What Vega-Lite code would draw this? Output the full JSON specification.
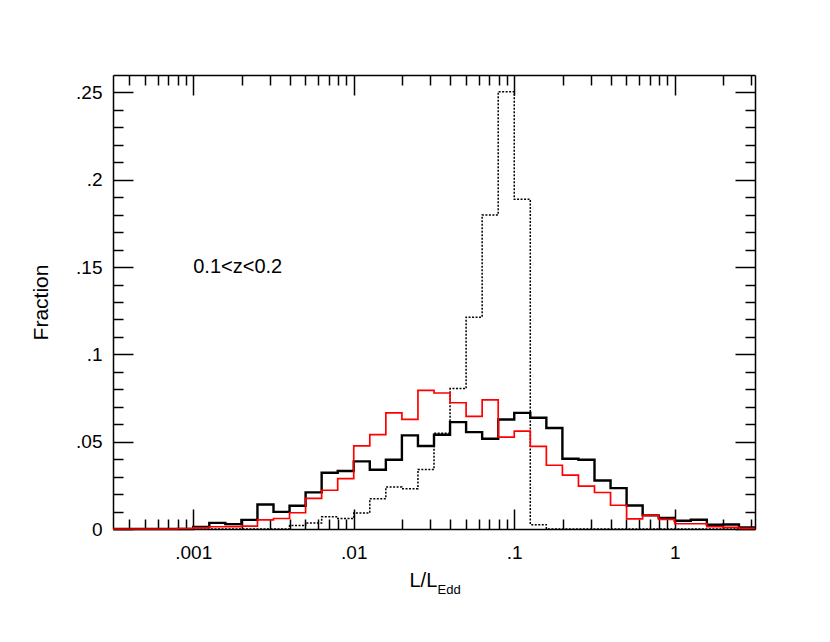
{
  "$schema": "https://vega.github.io/schema/vega-lite/v6.json",
  "width": 642,
  "height": 454,
  "autosize": {"type": "none"},
  "padding": {"left": 113, "top": 75, "right": 75, "bottom": 113},
  "background": "white",
  "config": {
    "view": {"stroke": null},
    "axis": {
      "domainColor": "black", "domainWidth": 1.5,
      "tickColor": "black", "tickWidth": 1.5,
      "grid": false,
      "labelFont": "Liberation Sans", "labelFontSize": 19, "labelColor": "black",
      "titleFont": "Liberation Sans", "titleFontSize": 20, "titleFontWeight": "normal", "titleColor": "black",
      "labelFlush": false, "labelOverlap": false
    }
  },
  "datasets": {
    "black": [
      {"x": 0.00031623, "f": 0}, {"x": 0.00039811, "f": 0}, {"x": 0.00050119, "f": 0}, {"x": 0.00063096, "f": 0}, {"x": 0.00079433, "f": 0},
      {"x": 0.001, "f": 0.0012}, {"x": 0.0012589, "f": 0.0035}, {"x": 0.0015849, "f": 0.0028}, {"x": 0.0019953, "f": 0.0052}, {"x": 0.0025119, "f": 0.014},
      {"x": 0.0031623, "f": 0.0098}, {"x": 0.0039811, "f": 0.0133}, {"x": 0.0050119, "f": 0.021}, {"x": 0.0063096, "f": 0.0322}, {"x": 0.0079433, "f": 0.0332},
      {"x": 0.01, "f": 0.0387}, {"x": 0.012589, "f": 0.0339}, {"x": 0.015849, "f": 0.0397}, {"x": 0.019953, "f": 0.0536}, {"x": 0.025119, "f": 0.0475},
      {"x": 0.031623, "f": 0.054}, {"x": 0.039811, "f": 0.0612}, {"x": 0.050119, "f": 0.0555}, {"x": 0.063096, "f": 0.0517}, {"x": 0.079433, "f": 0.0627},
      {"x": 0.1, "f": 0.0665}, {"x": 0.12589, "f": 0.0637}, {"x": 0.15849, "f": 0.0578}, {"x": 0.19953, "f": 0.0402}, {"x": 0.25119, "f": 0.0397},
      {"x": 0.31623, "f": 0.0278}, {"x": 0.39811, "f": 0.0234}, {"x": 0.50119, "f": 0.0135}, {"x": 0.63096, "f": 0.0078}, {"x": 0.79433, "f": 0.0063},
      {"x": 1.0, "f": 0.0047}, {"x": 1.2589, "f": 0.0053}, {"x": 1.5849, "f": 0.0024}, {"x": 1.9953, "f": 0.0026}, {"x": 2.5119, "f": 0.0009},
      {"x": 3.1623, "f": 0.0009}
    ],
    "red": [
      {"x": 0.00031623, "f": 0}, {"x": 0.00039811, "f": 0}, {"x": 0.00050119, "f": 0}, {"x": 0.00063096, "f": 0}, {"x": 0.00079433, "f": 0.0003},
      {"x": 0.001, "f": 0.0006}, {"x": 0.0012589, "f": 0.0013}, {"x": 0.0015849, "f": 0.0014}, {"x": 0.0019953, "f": 0.0016}, {"x": 0.0025119, "f": 0.0052},
      {"x": 0.0031623, "f": 0.006}, {"x": 0.0039811, "f": 0.0093}, {"x": 0.0050119, "f": 0.0175}, {"x": 0.0063096, "f": 0.0222}, {"x": 0.0079433, "f": 0.0289},
      {"x": 0.01, "f": 0.0476}, {"x": 0.012589, "f": 0.054}, {"x": 0.015849, "f": 0.0665}, {"x": 0.019953, "f": 0.0628}, {"x": 0.025119, "f": 0.0794},
      {"x": 0.031623, "f": 0.0779}, {"x": 0.039811, "f": 0.0723}, {"x": 0.050119, "f": 0.0645}, {"x": 0.063096, "f": 0.074}, {"x": 0.079433, "f": 0.0526},
      {"x": 0.1, "f": 0.0561}, {"x": 0.12589, "f": 0.0473}, {"x": 0.15849, "f": 0.0365}, {"x": 0.19953, "f": 0.0308}, {"x": 0.25119, "f": 0.0245},
      {"x": 0.31623, "f": 0.0209}, {"x": 0.39811, "f": 0.0136}, {"x": 0.50119, "f": 0.0058}, {"x": 0.63096, "f": 0.0078}, {"x": 0.79433, "f": 0.0055},
      {"x": 1.0, "f": 0.003}, {"x": 1.2589, "f": 0.003}, {"x": 1.5849, "f": 0.0014}, {"x": 1.9953, "f": 0.0009}, {"x": 2.5119, "f": 0.0004},
      {"x": 3.1623, "f": 0.0004}
    ],
    "dotted": [
      {"x": 0.00031623, "f": 0}, {"x": 0.0039811, "f": 0.002}, {"x": 0.0050119, "f": 0.0035}, {"x": 0.0063096, "f": 0.007}, {"x": 0.0079433, "f": 0.006},
      {"x": 0.01, "f": 0.0092}, {"x": 0.012589, "f": 0.0173}, {"x": 0.015849, "f": 0.024}, {"x": 0.019953, "f": 0.0231}, {"x": 0.025119, "f": 0.0341},
      {"x": 0.031623, "f": 0.0548}, {"x": 0.039811, "f": 0.0804}, {"x": 0.050119, "f": 0.1213}, {"x": 0.063096, "f": 0.1798}, {"x": 0.079433, "f": 0.2504},
      {"x": 0.1, "f": 0.1888}, {"x": 0.12589, "f": 0.0025}, {"x": 0.15849, "f": 0}, {"x": 3.1623, "f": 0}
    ],
    "note": [
      {"x": 0.001, "f": 0.15, "label": "0.1<z<0.2"}
    ]
  },
  "layer": [
    {
      "data": {"name": "black"},
      "mark": {"type": "line", "interpolate": "step-after", "color": "black", "strokeWidth": 2.4},
      "encoding": {
        "x": {
          "field": "x", "type": "quantitative",
          "scale": {"type": "log", "domain": [0.00031623, 3.1623], "nice": false},
          "axis": {
            "orient": "bottom", "values": [0.001, 0.01, 0.1, 1], "tickSize": -20, "labelPadding": 34,
            "labelExpr": "datum.value > 0 && datum.value < 1 ? replace(toString(datum.value), '0.', '.') : toString(datum.value)",
            "title": "L/L", "titleAlign": "left", "titleBaseline": "alphabetic", "titleX": 296, "titleY": 57
          }
        },
        "y": {
          "field": "f", "type": "quantitative",
          "scale": {"domain": [0, 0.26], "nice": false, "zero": false},
          "axis": {
            "orient": "left", "values": [0, 0.05, 0.1, 0.15, 0.2, 0.25], "tickSize": -20, "labelPadding": 31,
            "labelExpr": "datum.value > 0 && datum.value < 1 ? replace(toString(datum.value), '0.', '.') : toString(datum.value)",
            "title": "Fraction", "titleFontSize": 21, "titleAngle": -90, "titleAlign": "center", "titleBaseline": "alphabetic", "titleX": -66, "titleY": 227
          }
        }
      }
    },
    {
      "data": {"name": "dotted"},
      "mark": {"type": "line", "interpolate": "step-after", "color": "black", "strokeWidth": 1.5, "strokeDash": [2, 1.5]},
      "encoding": {
        "x": {
          "field": "x", "type": "quantitative",
          "scale": {"type": "log", "domain": [0.00031623, 3.1623], "nice": false},
          "axis": {
            "orient": "bottom",
            "values": [0.0004, 0.0005, 0.0006, 0.0007, 0.0008, 0.0009, 0.002, 0.003, 0.004, 0.005, 0.006, 0.007, 0.008, 0.009, 0.02, 0.03, 0.04, 0.05, 0.06, 0.07, 0.08, 0.09, 0.2, 0.3, 0.4, 0.5, 0.6, 0.7, 0.8, 0.9, 2, 3],
            "tickSize": -10, "labels": false, "domain": false,
            "title": "Edd", "titleFontSize": 13, "titleAlign": "left", "titleBaseline": "alphabetic", "titleX": 324, "titleY": 64
          }
        },
        "y": {
          "field": "f", "type": "quantitative",
          "scale": {"domain": [0, 0.26], "nice": false, "zero": false},
          "axis": {
            "orient": "left",
            "values": [0.01, 0.02, 0.03, 0.04, 0.06, 0.07, 0.08, 0.09, 0.11, 0.12, 0.13, 0.14, 0.16, 0.17, 0.18, 0.19, 0.21, 0.22, 0.23, 0.24],
            "tickSize": -10, "labels": false, "domain": false, "title": null
          }
        }
      }
    },
    {
      "data": {"name": "red"},
      "mark": {"type": "line", "interpolate": "step-after", "color": "#ff0000", "strokeWidth": 1.7},
      "encoding": {
        "x": {
          "field": "x", "type": "quantitative",
          "scale": {"type": "log", "domain": [0.00031623, 3.1623], "nice": false},
          "axis": {"orient": "top", "values": [0.001, 0.01, 0.1, 1], "tickSize": -20, "labels": false, "title": null}
        },
        "y": {
          "field": "f", "type": "quantitative",
          "scale": {"domain": [0, 0.26], "nice": false, "zero": false},
          "axis": {"orient": "right", "values": [0, 0.05, 0.1, 0.15, 0.2, 0.25], "tickSize": -20, "labels": false, "title": null}
        }
      }
    },
    {
      "data": {"name": "note"},
      "mark": {"type": "text", "align": "left", "baseline": "middle", "font": "Liberation Sans", "fontSize": 20, "color": "black"},
      "encoding": {
        "x": {
          "field": "x", "type": "quantitative",
          "scale": {"type": "log", "domain": [0.00031623, 3.1623], "nice": false},
          "axis": {
            "orient": "top",
            "values": [0.0004, 0.0005, 0.0006, 0.0007, 0.0008, 0.0009, 0.002, 0.003, 0.004, 0.005, 0.006, 0.007, 0.008, 0.009, 0.02, 0.03, 0.04, 0.05, 0.06, 0.07, 0.08, 0.09, 0.2, 0.3, 0.4, 0.5, 0.6, 0.7, 0.8, 0.9, 2, 3],
            "tickSize": -10, "labels": false, "domain": false, "title": null
          }
        },
        "y": {
          "field": "f", "type": "quantitative",
          "scale": {"domain": [0, 0.26], "nice": false, "zero": false},
          "axis": {
            "orient": "right",
            "values": [0.01, 0.02, 0.03, 0.04, 0.06, 0.07, 0.08, 0.09, 0.11, 0.12, 0.13, 0.14, 0.16, 0.17, 0.18, 0.19, 0.21, 0.22, 0.23, 0.24],
            "tickSize": -10, "labels": false, "domain": false, "title": null
          }
        },
        "text": {"field": "label"}
      }
    }
  ],
  "resolve": {"axis": {"x": "independent", "y": "independent"}}
}
